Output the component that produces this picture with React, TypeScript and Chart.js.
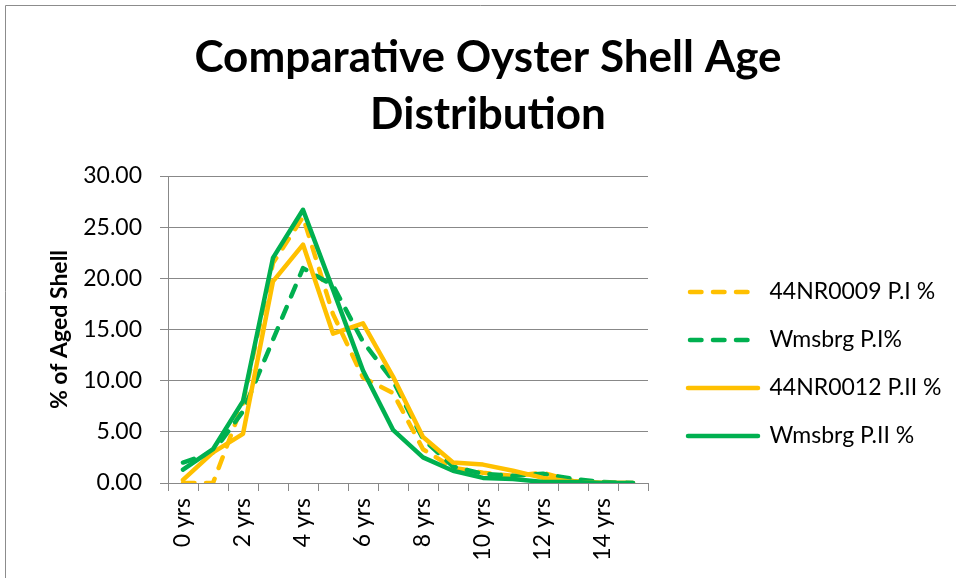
import React, { useEffect, useRef } from 'react';
import { Chart, registerables } from 'chart.js';

Chart.register(...registerables);

const categories = [
  '0 yrs', '1 yrs', '2 yrs', '3 yrs', '4 yrs', '5 yrs', '6 yrs', '7 yrs',
  '8 yrs', '9 yrs', '10 yrs', '11 yrs', '12 yrs', '13 yrs', '14 yrs', '15 yrs',
];

const seriesNames = ['44NR0009 P.I %', 'Wmsbrg P.I%', '44NR0012 P.II %', 'Wmsbrg P.II %'];

const nr0009PI = [0.0, 0.0, 7.8, 21.5, 26.0, 16.5, 10.3, 8.8, 3.3, 1.5, 1.0, 0.7, 1.0, 0.2, 0.0, 0.0];
const wmsbrgPI = [2.0, 3.0, 7.0, 14.0, 21.0, 19.3, 13.8, 10.0, 4.3, 1.6, 0.9, 0.7, 0.9, 0.4, 0.1, 0.0];
const nr0012PII = [0.3, 3.0, 4.8, 19.7, 23.3, 14.6, 15.6, 10.4, 4.5, 2.0, 1.8, 1.2, 0.5, 0.1, 0.0, 0.0];
const wmsbrgPII = [1.3, 3.3, 8.0, 22.0, 26.7, 18.9, 11.0, 5.2, 2.5, 1.2, 0.5, 0.4, 0.1, 0.1, 0.0, 0.0];

const yTickMin = 0;
const yTickMax = 30;
const yTickStep = 5;

const titleLines = ['Comparative Oyster Shell Age', 'Distribution'];
const yAxisTitle = '% of Aged Shell';

const YELLOW = '#FFC000';
const GREEN = '#00B050';
const GRID = '#888888';
const DASH = [11.5, 11.5];

const W = 956;
const H = 578;
const PLOT_LEFT = 168;
const PLOT_RIGHT = 648;
const LEGEND_PAD = 25;
const LEGEND_LINE = 70;
const LEGEND_FONT = 23;
const SPACER = 15;

const borderPlugin = {
  id: 'outerBorder',
  afterDraw(chart: any) {
    const ctx = chart.ctx;
    ctx.save();
    ctx.strokeStyle = '#8c8c8c';
    ctx.lineWidth = 1;
    ctx.beginPath();
    ctx.moveTo(5.5, chart.height);
    ctx.lineTo(5.5, 5.5);
    ctx.lineTo(chart.width, 5.5);
    ctx.stroke();
    ctx.restore();
  },
};

export default function App() {
  const canvasRef = useRef<HTMLCanvasElement | null>(null);

  useEffect(() => {
    if (!canvasRef.current) return;

    // measure legend text to size the layout
    const mctx = document.createElement('canvas').getContext('2d') as CanvasRenderingContext2D;
    mctx.font = `${LEGEND_FONT}px Lato`;
    const maxText = Math.max(...seriesNames.map((s) => mctx.measureText(s).width));
    const legendW = LEGEND_PAD + LEGEND_LINE + LEGEND_FONT / 2 + maxText + 10;
    const R = Math.max(0, W - PLOT_RIGHT - SPACER - legendW);
    const spacerW = W - PLOT_RIGHT - legendW - R;
    const L = 20 + R;
    const yAxisW = PLOT_LEFT - L;
    const yTitlePadTop = 60 - L - (23 * 1.2) / 2;

    const makeDs = (label: string, data: number[], color: string, dashed: boolean, order: number) => ({
      label,
      data,
      borderColor: color,
      backgroundColor: color,
      borderWidth: 4.5,
      borderDash: dashed ? DASH : [],
      borderCapStyle: 'round',
      borderJoinStyle: 'round',
      pointRadius: 0,
      pointHoverRadius: 0,
      tension: 0,
      fill: false,
      order,
    });

    const chart = new Chart(canvasRef.current, {
      type: 'line',
      data: {
        labels: categories,
        datasets: [
          makeDs(seriesNames[0], nr0009PI, YELLOW, true, 3),
          makeDs(seriesNames[1], wmsbrgPI, GREEN, true, 2),
          makeDs(seriesNames[2], nr0012PII, YELLOW, false, 1),
          makeDs(seriesNames[3], wmsbrgPII, GREEN, false, 0),
        ] as any,
      },
      options: {
        responsive: false,
        animation: false,
        events: [],
        layout: { padding: { left: L, right: R, top: 0, bottom: 0 } },
        font: { family: 'Lato' },
        plugins: {
          tooltip: { enabled: false },
          title: {
            display: true,
            text: titleLines,
            color: '#000',
            font: { family: 'Lato', size: 44, weight: 'bold', lineHeight: 1.3 },
            padding: { top: 29.4, bottom: 32.2 },
          },
          legend: {
            display: true,
            position: 'right',
            align: 'start',
            fullSize: false,
            maxWidth: legendW + 0.5,
            title: {
              display: true,
              text: '',
              font: { size: 10, lineHeight: 1 },
              padding: { top: 69.5, bottom: 0 },
            },
            labels: {
              usePointStyle: true,
              pointStyle: 'line',
              pointStyleWidth: LEGEND_LINE,
              padding: LEGEND_PAD,
              color: '#000',
              font: { family: 'Lato', size: LEGEND_FONT },
              sort: (a: any, b: any) => a.datasetIndex - b.datasetIndex,
              generateLabels: (ch: any) => {
                const items = (Chart.defaults.plugins.legend.labels as any).generateLabels(ch);
                return items.map((it: any) => {
                  const ds = ch.data.datasets[it.datasetIndex];
                  return {
                    ...it,
                    pointStyle: 'line',
                    lineWidth: 4.5,
                    lineCap: 'round',
                    lineDash: ds.borderDash && ds.borderDash.length ? ds.borderDash : [],
                    lineDashOffset: 21,
                    strokeStyle: ds.borderColor,
                    fillStyle: ds.borderColor,
                    fontColor: '#000',
                  };
                });
              },
            },
          },
        },
        scales: {
          x: {
            type: 'category',
            offset: true,
            grid: {
              offset: true,
              drawOnChartArea: false,
              drawTicks: true,
              tickLength: 8,
              tickColor: GRID,
              color: GRID,
            },
            border: { display: true, color: GRID, width: 1 },
            ticks: {
              autoSkip: false,
              minRotation: 90,
              maxRotation: 90,
              padding: 7,
              color: '#000',
              font: { family: 'Lato', size: 23 },
              callback: (_v: any, i: number) => (i % 2 === 0 ? categories[i] : ''),
            },
            afterFit: (s: any) => { s.height = 95; },
          },
          y: {
            type: 'linear',
            position: 'left',
            min: yTickMin,
            max: yTickMax,
            grid: {
              color: GRID,
              drawTicks: true,
              tickLength: 8,
              tickColor: GRID,
            },
            border: { display: true, color: GRID, width: 1 },
            ticks: {
              stepSize: yTickStep,
              padding: 18,
              color: '#000',
              font: { family: 'Lato', size: 23 },
              callback: (v: any) => Number(v).toFixed(2),
            },
            title: {
              display: true,
              text: yAxisTitle,
              color: '#000',
              font: { family: 'Lato', size: 23, weight: 'bold', lineHeight: 1.2 },
              padding: { top: yTitlePadTop, bottom: 0 },
            },
            afterFit: (s: any) => { s.width = yAxisW; },
          },
          spacer: {
            type: 'linear',
            position: 'right',
            display: true,
            grid: { display: false, drawTicks: false },
            border: { display: false },
            ticks: { display: false },
            afterFit: (s: any) => { s.width = spacerW; },
          },
        },
      } as any,
      plugins: [borderPlugin],
    });
    return () => chart.destroy();
  }, []);

  return (
    <div style={{ position: 'fixed', left: 0, top: 0, width: W, height: H, background: '#fff' }}>
      <canvas ref={canvasRef} width={W} height={H} style={{ width: W, height: H, display: 'block' }} />
    </div>
  );
}
